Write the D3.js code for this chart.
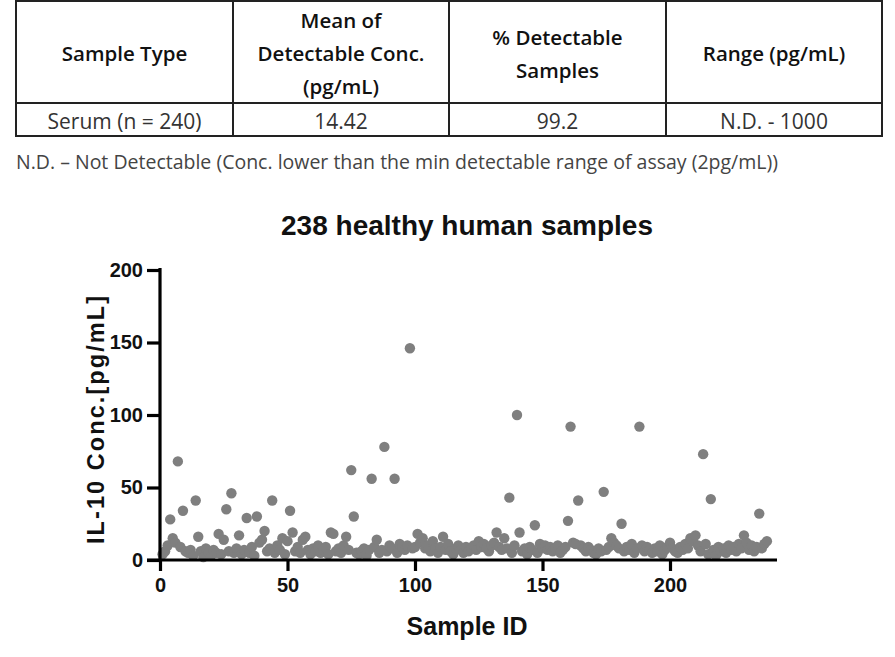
<!DOCTYPE html>
<html><head><meta charset="utf-8">
<script src="https://cdn.jsdelivr.net/npm/d3@7"></script>
<style>
body{margin:0;background:#fff;}
svg{display:block;}
</style></head>
<body>
<svg id="c" width="895" height="657"></svg>
<script>
// ---- data ----
const tableHeaders = [["Sample Type"],["Mean of","Detectable Conc.","(pg/mL)"],["% Detectable","Samples"],["Range (pg/mL)"]];
const tableRow = ["Serum (n = 240)","14.42","99.2","N.D. - 1000"];
const footnote = "N.D. \u2013 Not Detectable (Conc. lower than the min detectable range of assay (2pg/mL))";
const chartTitle = "238 healthy human samples";
const xLabel = "Sample ID";
const yLabel = "IL-10 Conc.[pg/mL]";
const xTicks = [0,50,100,150,200];
const yTicks = [0,50,100,150,200];
const conc = [
4,6,10,28,15,12,68,9,34,6,
5,7,3,41,16,6,2,8,5,3,
7,5,18,4,14,35,6,46,5,8,
17,4,7,29,5,9,3,30,12,14,
20,6,8,41,5,10,7,15,4,13,
34,19,6,9,5,14,16,7,4,8,
6,10,5,7,9,4,19,18,6,8,
5,10,16,7,62,30,5,4,6,8,
3,7,56,9,14,5,7,78,6,10,
8,56,5,11,9,7,10,146,8,9,
18,12,15,8,10,6,13,8,5,9,
16,7,11,6,4,8,10,7,5,9,
6,8,10,7,13,9,11,8,6,10,
12,19,9,7,15,8,43,5,10,100,
19,6,8,4,9,7,24,5,11,8,
10,7,9,6,8,10,5,7,9,27,
92,12,11,41,10,8,6,9,7,5,
4,8,6,47,7,9,15,12,10,8,
25,6,9,7,11,5,8,92,10,6,
9,7,5,8,6,10,4,7,9,12,
8,6,5,9,7,11,8,15,13,17,
10,6,73,11,4,42,7,3,9,6,
8,5,10,7,9,6,11,8,17,12,
7,10,6,9,32,8,11,13
];
const sampleId = conc.map((_,i)=>i+1);

const svg = d3.select("#c");

// ---- table ----
const colX = [16,233,449,666,882];
const rowY = [1,103,136];
const tg = svg.append("g");
tg.append("rect").attr("x",colX[0]).attr("y",rowY[0]).attr("width",colX[4]-colX[0]).attr("height",rowY[2]-rowY[0])
  .attr("fill","none").attr("stroke","#222").attr("stroke-width",2);
colX.slice(1,4).forEach(cx=>{
  tg.append("line").attr("x1",cx).attr("x2",cx).attr("y1",rowY[0]).attr("y2",rowY[2]).attr("stroke","#222").attr("stroke-width",2);
});
tg.append("line").attr("x1",colX[0]).attr("x2",colX[4]).attr("y1",rowY[1]).attr("y2",rowY[1]).attr("stroke","#222").attr("stroke-width",2);
const body = "'Open Sans','Noto Sans',sans-serif";
tableHeaders.forEach((lines,i)=>{
  const cx=(colX[i]+colX[i+1])/2, cy=(rowY[0]+rowY[1])/2+1;
  const lh=33;
  lines.forEach((t,j)=>{
    tg.append("text").attr("x",cx).attr("y",cy+(j-(lines.length-1)/2)*lh)
      .attr("text-anchor","middle").attr("dominant-baseline","central")
      .style("font-family",body).style("font-weight","600").style("font-size","20.5px").attr("fill","#111").text(t);
  });
});
tableRow.forEach((t,i)=>{
  const cx=(colX[i]+colX[i+1])/2, cy=(rowY[1]+rowY[2])/2+1;
  tg.append("text").attr("x",cx).attr("y",cy).attr("text-anchor","middle").attr("dominant-baseline","central")
    .style("font-family",body).style("font-size","21px").attr("fill","#333").text(t);
});
svg.append("text").attr("x",16).attr("y",161).attr("dominant-baseline","central")
  .style("font-family",body).style("font-size","19.5px").attr("fill","#444").text(footnote);

// ---- chart ----
const arial = "'Liberation Sans',Arial,sans-serif";
const x = d3.scaleLinear().domain([0,240]).range([160,772]);
const y = d3.scaleLinear().domain([0,200]).range([560,270]);

svg.append("text").attr("x",467).attr("y",235).attr("text-anchor","middle")
  .style("font-family",arial).style("font-weight","bold").style("font-size","28px").attr("fill","#111").text(chartTitle);

const pts = svg.append("g");
pts.selectAll("circle").data(conc).join("circle")
  .attr("cx",(d,i)=>x(sampleId[i])).attr("cy",d=>y(d)).attr("r",5.2).attr("fill","#7f7f7f");

const xa = svg.append("g").attr("transform","translate(0,560)")
  .call(d3.axisBottom(x).tickValues(xTicks).tickSize(11).tickPadding(7).tickSizeOuter(0));
const ya = svg.append("g").attr("transform","translate(160,0)")
  .call(d3.axisLeft(y).tickValues(yTicks).tickSize(13).tickPadding(4).tickSizeOuter(0));
[xa,ya].forEach(a=>{
  a.select(".domain").attr("stroke","#000").attr("stroke-width",3.2);
  a.selectAll(".tick line").attr("stroke","#000").attr("stroke-width",3.2);
  a.selectAll(".tick text").style("font-family",arial).style("font-weight","bold").style("font-size","20px").attr("fill","#111");
});
xa.select(".domain").attr("d","M147,0H777");
ya.select(".domain").attr("d","M0,268V561");

svg.append("text").attr("x",467).attr("y",635).attr("text-anchor","middle")
  .style("font-family",arial).style("font-weight","bold").style("font-size","25px").attr("fill","#111").text(xLabel);
svg.append("text").attr("transform","translate(96,420) rotate(-90)").attr("text-anchor","middle").attr("dominant-baseline","central")
  .attr("textLength",248).attr("lengthAdjust","spacing")
  .style("font-family",arial).style("font-weight","bold").style("font-size","23.5px").attr("fill","#111").text(yLabel);
</script>
</body></html>
